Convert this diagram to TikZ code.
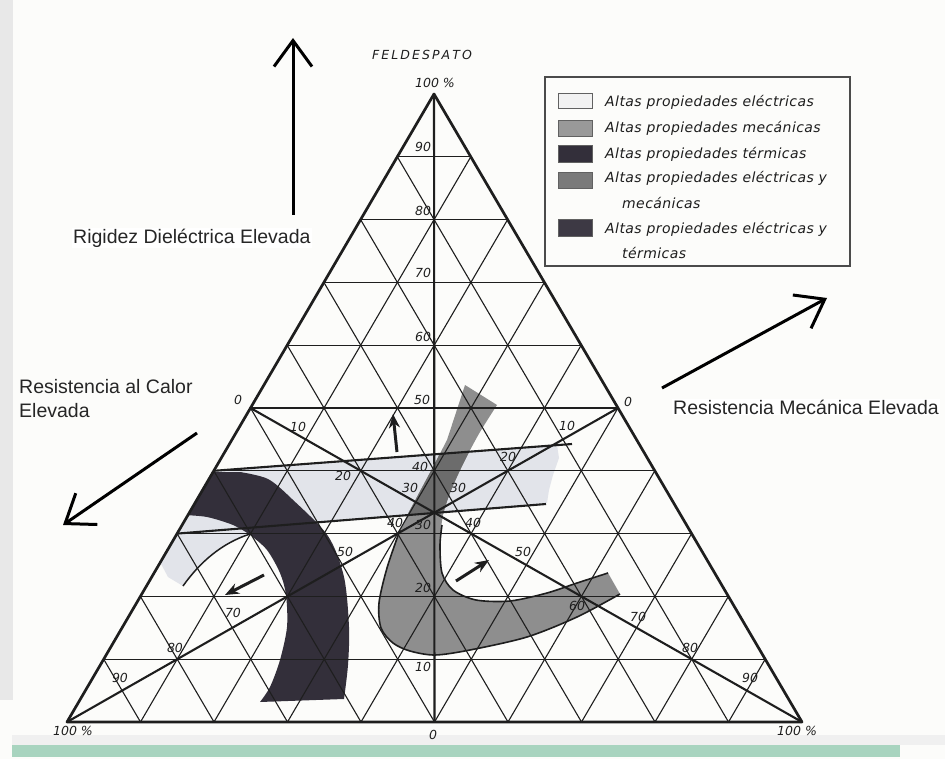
\documentclass[tikz,border=0pt]{standalone}
\usepackage{fontspec}
\setmainfont{Liberation Sans}
\newfontfamily\diagfont{DejaVu Sans}
\newfontfamily\legfont[LetterSpace=3]{DejaVu Sans}
\usetikzlibrary{calc,arrows.meta}

\definecolor{bgc}{HTML}{FCFCFA}
\definecolor{lightreg}{HTML}{E2E4EA}
\definecolor{mechgrey}{HTML}{8E8E8E}
\definecolor{overlapgrey}{HTML}{6C6C6C}
\definecolor{thermdark}{HTML}{332F3A}
\definecolor{inkc}{HTML}{1E1E1E}
\definecolor{greenbar}{HTML}{A8D4BF}

\newcommand{\GreyBandPath}{(465,385) -- plot[smooth] coordinates {(447,440) (433,467) (417,497) (400,530) (387,568) (379,603) (381,628) (393,643) (410,651) (435,655) (470,650) (527,637) (577,617) (620,594)} -- (608,573) -- plot[smooth] coordinates {(608,573) (577,583) (547,593) (510,601) (476,600) (453,590) (442,573) (440,545) (443,515) (452,488) (466,458) (480,432) (497,405)} -- cycle}
\newcommand{\LightStripPath}{(177.1,533.6) -- (213.8,470.8) -- (557,445) -- (559,458) -- (553,475) -- (549,490) -- (547,503) -- cycle}
\newcommand{\PocketPath}{(183,515) -- (160,562) -- (168,577) -- (183,586) .. controls (200,562) and (222,543) .. (252,533) -- (252,512) -- cycle}
\newcommand{\DarkBandPath}{(210,472) -- plot[smooth] coordinates {(240,472) (268,479) (292,499) (328,536) (344,577) (349,627) (348,665) (344,699)} -- plot[smooth] coordinates {(260,702) (270,687) (280,660) (287,627) (286,595) (280,573) (267,550) (250,535) (233,525) (207,517) (183,515)} -- cycle}

\tikzset{
  gridln/.style={line width=1.1pt, draw=inkc},
  medianln/.style={line width=2.1pt, draw=inkc},
  edgeln/.style={line width=2.7pt, draw=inkc, line join=round},
  num/.style={font=\diagfont\itshape\fontsize{12.5}{12.5}\selectfont, text=inkc, inner sep=0pt},
  legtxt/.style={font=\legfont\itshape\fontsize{14}{14}\selectfont, text=inkc, anchor=west, inner sep=0pt},
  swatch/.style={draw=inkc!70, line width=0.8pt},
  smallarrow/.style={line width=3pt, draw=inkc, -{Stealth[length=14pt,width=11pt]}},
  bigarrow/.style={line width=3pt, draw=black, -{Straight Barb[length=26pt,width=38pt,line width=3pt]}},
  bigtxt/.style={font=\fontsize{19.5}{24}\selectfont, text=black!85, inner sep=1pt, align=left},
}

\begin{document}
\begin{tikzpicture}[x=1pt,y=-1pt]
\useasboundingbox (0,0) rectangle (945,759);
\fill[bgc] (0,0) rectangle (945,759);
\fill[black!9] (0,0) rectangle (13,700);
\fill[black!6] (12,735) rectangle (945,745);
\fill[greenbar] (12,745) rectangle (900,757);

\coordinate (A) at (434,94);
\coordinate (L) at (67,722);
\coordinate (R) at (802,722);

% regions
\begin{scope}
  \clip (A) -- (L) -- (R) -- cycle;
  \fill[lightreg] \LightStripPath;
  \fill[lightreg] \PocketPath;
  \fill[mechgrey] \GreyBandPath;
  \begin{scope}
    \clip \LightStripPath;
    \fill[overlapgrey] \GreyBandPath;
  \end{scope}
  \fill[thermdark] \DarkBandPath;
\end{scope}

% grid
\foreach \k in {1,...,9}{
  \draw[gridln] ($(L)!\k/10!(A)$) -- ($(R)!\k/10!(A)$);
  \draw[gridln] ($(L)!\k/10!(R)$) -- ($(A)!\k/10!(R)$);
  \draw[gridln] ($(R)!\k/10!(L)$) -- ($(A)!\k/10!(L)$);
}
% medians
\coordinate (mB) at ($(L)!0.5!(R)$);
\coordinate (mL) at ($(L)!0.5!(A)$);
\coordinate (mR) at ($(R)!0.5!(A)$);
\draw[medianln] (A) -- (mB);
\draw[medianln] (mL) -- (R);
\draw[medianln] (mR) -- (L);
% slanted lines
\coordinate (s1a) at ($(L)!0.4!(A)$);
\coordinate (s1b) at (572,444);
\coordinate (s2a) at ($(L)!0.3!(A)$);
\coordinate (s2b) at (546,504);
\draw[medianln] (s1a) -- (s1b);
\draw[medianln] (s2a) -- (s2b);
% triangle
\draw[edgeln] (A) -- (L) -- (R) -- cycle;

% band outlines
\draw[line width=1.6pt, inkc] plot[smooth] coordinates {(400,530) (387,568) (379,603) (381,628) (393,643) (410,651) (435,655) (470,650) (527,637) (577,617) (620,594)};
\draw[line width=1.6pt, inkc] plot[smooth] coordinates {(608,573) (577,583) (547,593) (510,601) (476,600) (453,590) (442,573) (440,545) (442,525)};
\draw[line width=1.5pt, inkc] (183,586) .. controls (200,562) and (222,543) .. (250,534);

% small arrows
\coordinate (a1s) at (397,452); \coordinate (a1e) at (393,414);
\coordinate (a2s) at (264,575); \coordinate (a2e) at (225,595);
\coordinate (a3s) at (456,581); \coordinate (a3e) at (489,560);
\draw[smallarrow] (a1s) -- (a1e);
\draw[smallarrow] (a2s) -- (a2e);
\draw[smallarrow] (a3s) -- (a3e);

% vertical median labels
\node[num] (v90) at (423,147) {90};
\node[num] (v80) at (423,211) {80};
\node[num] (v70) at (423,273) {70};
\node[num] (v60) at (423,337) {60};
\node[num] (v50) at (422,400) {50};
\node[num] (v40) at (420,467) {40};
\node[num] (v30) at (423,525) {30};
\node[num] (v20) at (423,588) {20};
\node[num] (v10) at (423,667) {10};
% left median labels
\node[num] (l0) at (238,400) {0};
\node[num] (l10) at (298,427) {10};
\node[num] (l20) at (343,476) {20};
\node[num] (l30) at (410,488) {30};
\node[num] (l40) at (473,523) {40};
\node[num] (l50) at (523,552) {50};
\node[num] (l60) at (577,606) {60};
\node[num] (l70) at (638,617) {70};
\node[num] (l80) at (690,648) {80};
\node[num] (l90) at (750,678) {90};
% right median labels
\node[num] (r0) at (628,402) {0};
\node[num] (r10) at (567,426) {10};
\node[num] (r20) at (508,457) {20};
\node[num] (r30) at (458,488) {30};
\node[num] (r40) at (395,523) {40};
\node[num] (r50) at (345,552) {50};
\node[num] (r70) at (233,613) {70};
\node[num] (r80) at (175,648) {80};
\node[num] (r90) at (120,678) {90};
% corners
\node[num] (feld) at (422,55) {F\,E\,L\,D\,E\,S\,P\,A\,T\,O};
\node[num] (top100) at (435,83) {100 \%};
\node[num] (bl100) at (73,731) {100 \%};
\node[num] (bc0) at (433,735) {0};
\node[num, anchor=west] (br100) at (777,731) {100 \%};

% legend
\draw[line width=1.2pt, inkc!80] (545,77) rectangle (850,266);
\filldraw[swatch, fill=black!5] (558,93) rectangle (592,108);
\filldraw[swatch, fill=black!40] (558,120) rectangle (592,136);
\filldraw[swatch, fill=thermdark] (558,145) rectangle (592,162);
\filldraw[swatch, fill=black!52] (558,172) rectangle (592,188);
\filldraw[swatch, fill=thermdark!95!white] (558,219) rectangle (592,236);
\node[legtxt] (lg1) at (605,102) {Altas propiedades eléctricas};
\node[legtxt] (lg2) at (605,128) {Altas propiedades mecánicas};
\node[legtxt] (lg3) at (605,154) {Altas propiedades térmicas};
\node[legtxt] (lg4) at (605,178) {Altas propiedades eléctricas y};
\node[legtxt] (lg4b) at (622,203) {mecánicas};
\node[legtxt] (lg5) at (605,229) {Altas propiedades eléctricas y};
\node[legtxt] (lg5b) at (622,253) {térmicas};

% big arrows and texts
\coordinate (u0) at (293,215); \coordinate (u1) at (293,38);
\coordinate (h0) at (197,433); \coordinate (h1) at (63,525);
\coordinate (m0) at (662,388); \coordinate (m1) at (827,298);
\draw[bigarrow] (u0) -- (u1);
\draw[bigarrow] (h0) -- (h1);
\draw[bigarrow] (m0) -- (m1);
\node[bigtxt, anchor=west, fill=white] (tRig) at (72,238) {Rigidez Dieléctrica Elevada};
\node[bigtxt, anchor=west] (tCal) at (18,399) {Resistencia al Calor\\Elevada};
\node[bigtxt, anchor=west, fill=white] (tMec) at (672,407) {Resistencia Mecánica Elevada};
\end{tikzpicture}
\end{document}
